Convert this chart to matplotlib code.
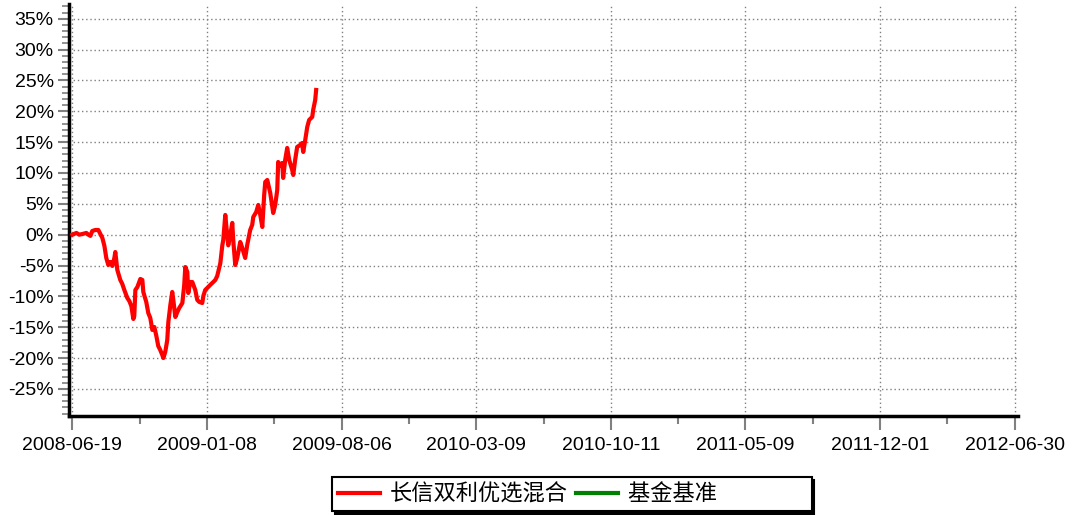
import matplotlib
matplotlib.use("Agg")
import matplotlib.pyplot as plt
from matplotlib.ticker import FixedLocator, MultipleLocator, FuncFormatter

plt.rcParams['font.family'] = ['Liberation Sans', 'DejaVu Sans']

# x tick labels (evenly spaced trading-day positions)
date_labels = ["2008-06-19", "2009-01-08", "2009-08-06", "2010-03-09",
               "2010-10-11", "2011-05-09", "2011-12-01", "2012-06-30"]

# fund cumulative return, x in units of the label spacing
fund_x = [0.000, 0.030, 0.052, 0.074, 0.104, 0.119, 0.134, 0.148, 0.171, 0.193,
          0.208, 0.223, 0.238, 0.252, 0.267, 0.282, 0.297, 0.312, 0.319, 0.334,
          0.356, 0.371, 0.386, 0.408, 0.423, 0.438, 0.453, 0.460, 0.468, 0.483,
          0.505, 0.520, 0.527, 0.549, 0.564, 0.579, 0.594, 0.609, 0.624, 0.638,
          0.653, 0.668, 0.676, 0.690, 0.705, 0.713, 0.728, 0.742, 0.750, 0.765,
          0.780, 0.794, 0.817, 0.831, 0.839, 0.854, 0.861, 0.876, 0.891, 0.913,
          0.928, 0.943, 0.965, 0.973, 0.987, 1.002, 1.024, 1.047, 1.062, 1.076,
          1.099, 1.114, 1.121, 1.136, 1.143, 1.158, 1.173, 1.188, 1.195, 1.210,
          1.225, 1.247, 1.262, 1.284, 1.299, 1.321, 1.336, 1.344, 1.366, 1.381,
          1.396, 1.411, 1.425, 1.433, 1.448, 1.470, 1.492, 1.507, 1.522, 1.529,
          1.544, 1.559, 1.566, 1.581, 1.596, 1.611, 1.633, 1.641, 1.655, 1.670,
          1.693, 1.707, 1.715, 1.730, 1.745, 1.759, 1.782, 1.789, 1.804, 1.811]
fund_ret = [0.0, 0.28, 0.0, 0.11, 0.28, 0.0, -0.2, 0.6, 0.76, 0.76,
            0.11, -0.54, -1.83, -3.78, -4.91, -4.43, -5.07, -3.78, -2.81, -5.72,
            -7.34, -7.99, -8.96, -10.26, -10.75, -11.56, -13.67, -13.18, -8.96, -8.48,
            -7.18, -7.34, -9.29, -10.91, -12.70, -13.51, -15.45, -14.97, -16.43, -18.05,
            -18.70, -19.51, -20.0, -19.02, -17.08, -14.16, -11.40, -9.29, -10.59, -13.35,
            -12.54, -11.89, -11.08, -8.15, -5.24, -6.05, -9.45, -7.67, -7.67, -8.96,
            -10.59, -10.91, -11.08, -9.94, -8.96, -8.64, -8.15, -7.67, -7.34, -6.70,
            -4.65, -1.73, -0.86, 3.20, 1.58, -1.73, -0.05, 1.91, -0.86, -4.91,
            -3.78, -1.18, -2.13, -3.78, -1.67, 0.76, 1.58, 2.87, 3.68, 4.82,
            3.20, 1.25, 6.44, 8.55, 8.87, 6.76, 3.52, 4.82, 7.25, 11.79,
            11.14, 11.63, 9.20, 12.12, 14.06, 12.12, 10.49, 9.68, 12.12, 14.22,
            14.55, 14.87, 13.41, 15.36, 17.47, 18.60, 19.09, 20.22, 21.84, 23.46]

fund_name = "长信双利优选混合"
bench_name = "基金基准"

fig = plt.figure(figsize=(10.74, 5.15), dpi=100)
ax = fig.add_axes([69 / 1074, 1 - 415.7 / 515, 949 / 1074, 411.7 / 515])

ax.plot(fund_x, fund_ret, color="#ff0000", lw=3.0, label=fund_name,
        solid_joinstyle="round", zorder=3)
ax.plot([], [], color="#008000", lw=3.0, label=bench_name)

ax.set_xlim(-0.025, 7.025)
ax.set_ylim(-29.35, 37.4)

ax.xaxis.set_major_locator(FixedLocator(range(len(date_labels))))
ax.set_xticklabels(date_labels)
ax.xaxis.set_minor_locator(MultipleLocator(0.5))
ax.yaxis.set_major_locator(FixedLocator(range(-25, 36, 5)))
ax.yaxis.set_minor_locator(MultipleLocator(1))
ax.yaxis.set_major_formatter(FuncFormatter(lambda v, p: f"{v:.0f}%"))

ax.tick_params(axis="both", which="major", direction="out", color="#808080",
               width=1.5, labelsize=14, labelcolor="black")
ax.tick_params(axis="x", which="major", length=10, pad=5)
ax.tick_params(axis="x", which="minor", length=6, width=1.5, color="#808080")
ax.tick_params(axis="y", which="major", length=8, pad=3)
ax.tick_params(axis="y", which="minor", length=5, width=1.2, color="#808080")

ax.grid(True, which="major", color="#808080", linestyle=(0, (1, 2)), lw=1)
for side in ("top", "right"):
    ax.spines[side].set_visible(False)
for side in ("left", "bottom"):
    ax.spines[side].set_linewidth(2.5)
    ax.spines[side].set_color("black")

leg = fig.legend(loc="center", bbox_to_anchor=(572 / 1074, 1 - 494 / 515), ncol=2,
                 frameon=True, fancybox=False, shadow={"color": "black", "alpha": 1},
                 handlelength=1.9, handletextpad=0.45, columnspacing=0.35,
                 borderpad=0.25, borderaxespad=0,
                 prop={"family": ["Noto Sans CJK SC", "DejaVu Sans"], "size": 16})
leg.get_frame().set_edgecolor("black")
leg.get_frame().set_linewidth(1.5)
leg.get_frame().set_alpha(1)
leg.get_texts()[1].set_text(bench_name + "\u3000" * 4)

fig.savefig("out.png", dpi=100)
